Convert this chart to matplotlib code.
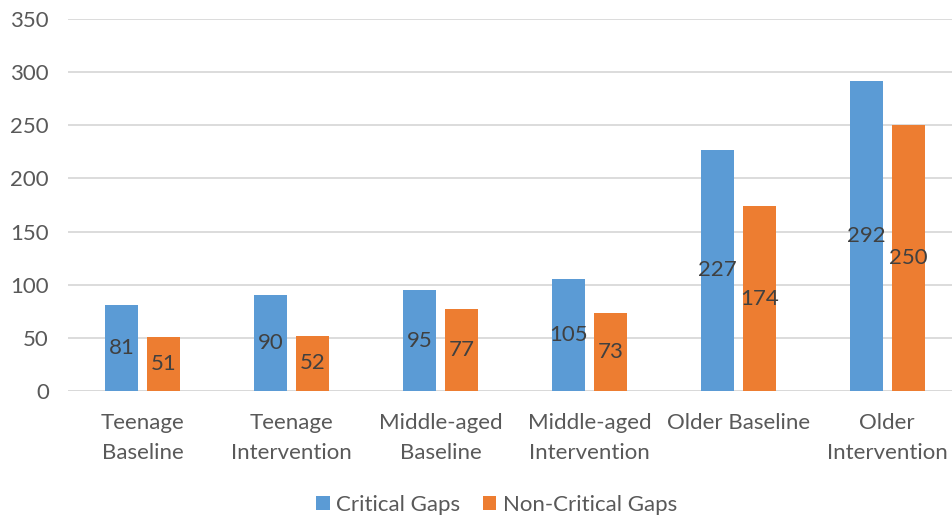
import matplotlib
matplotlib.use("Agg")
import matplotlib.pyplot as plt
import numpy as np

categories = ["Teenage\nBaseline", "Teenage\nIntervention", "Middle-aged\nBaseline",
              "Middle-aged\nIntervention", "Older Baseline", "Older\nIntervention"]
critical = [81, 90, 95, 105, 227, 292]
non_critical = [51, 52, 77, 73, 174, 250]
series_names = ["Critical Gaps", "Non-Critical Gaps"]
yticks = [0, 50, 100, 150, 200, 250, 300, 350]

plt.rcParams['font.family'] = ['Lato', 'DejaVu Sans']
txt = '#595959'
blue = '#5B9BD5'
orange = '#ED7D31'

fig = plt.figure(figsize=(9.53, 5.19), dpi=100)
ax = fig.add_axes([68.25/953, 1-391/519, 893.4/953, (391-19)/519])

x = np.arange(len(categories))
w = 0.224
gap = 0.058
off = (w + gap) / 2
b1 = ax.bar(x - off, critical, w, color=blue, label=series_names[0], zorder=3)
b2 = ax.bar(x + off, non_critical, w, color=orange, label=series_names[1], zorder=3)

for bars, vals in ((b1, critical), (b2, non_critical)):
    for r, v in zip(bars, vals):
        ax.text(r.get_x() + r.get_width()/2, v/2, str(v), ha='center', va='center',
                fontsize=16, color='#404040', zorder=4)

ax.set_xlim(-0.5, len(categories) - 0.5)
ax.set_ylim(0, 350)
ax.set_yticks(yticks)
ax.yaxis.grid(True, color='#D9D9D9', linewidth=1.3, zorder=0)
ax.set_axisbelow(True)
for s in ax.spines.values():
    s.set_visible(False)
ax.tick_params(axis='both', length=0, colors=txt, labelsize=16)
ax.tick_params(axis='y', pad=14)
ax.tick_params(axis='x', pad=16)
ax.set_xticks(x)
ax.set_xticklabels(categories, linespacing=1.6)
ax.axhline(0, color='#D9D9D9', linewidth=1.3, zorder=1)

leg = fig.legend(handles=[b1, b2], labels=series_names, loc='center',
                 bbox_to_anchor=(496.5/953, 1-505/519), ncol=2, frameon=False,
                 fontsize=16, handlelength=0.6, handleheight=0.6, handletextpad=0.3,
                 columnspacing=1.0, labelcolor=txt)

fig.savefig('out.png', dpi=100)
